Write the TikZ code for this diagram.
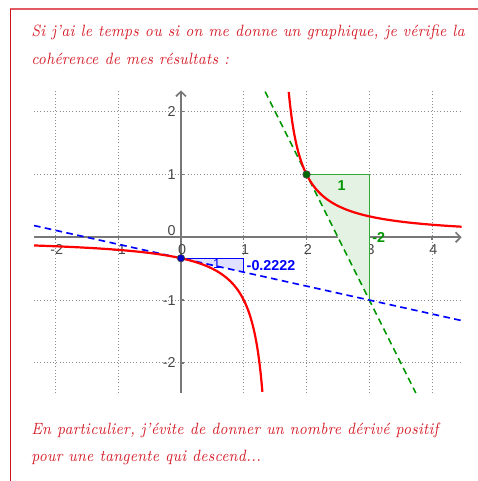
\documentclass[tikz,border=0pt]{standalone}
\usepackage{fontspec}
\setsansfont{Liberation Sans}
\usetikzlibrary{arrows.meta}
\definecolor{remarkred}{RGB}{212,28,40}
\definecolor{framered}{RGB}{226,90,100}
\definecolor{frameleft}{RGB}{205,20,30}
\definecolor{axisgray}{RGB}{120,120,120}
\definecolor{labelgray}{RGB}{70,70,70}
\definecolor{gridgray}{RGB}{140,140,140}
\definecolor{curvered}{RGB}{255,0,0}
\definecolor{tangreen}{RGB}{0,150,0}
\definecolor{greenfill}{RGB}{228,242,228}
\definecolor{tanblue}{RGB}{0,0,255}
\definecolor{bluefill}{RGB}{224,224,255}
\newcommand{\remtext}[1]{\scalebox{0.84}[1]{#1}}
\tikzset{
  remark/.style={anchor=base west, inner sep=0pt, text=remarkred,
    font=\fontsize{7.4}{10}\selectfont\itshape},
  gridline/.style={gridgray, densely dotted, line width=0.45pt},
  axisline/.style={axisgray, line width=0.75pt, -{Straight Barb[length=2.2pt,width=4.5pt]}},
  tickmark/.style={axisgray, line width=0.6pt},
  axislabel/.style={inner sep=0pt, text=labelgray, font=\sffamily\fontsize{6.5}{7}\selectfont},
  curve/.style={curvered, line width=1pt},
  greentan/.style={tangreen, dash pattern=on 3pt off 2pt, line width=0.75pt},
  bluetan/.style={tanblue, dash pattern=on 3pt off 2pt, line width=0.75pt},
  greenside/.style={tangreen!80!white, line width=0.6pt},
  blueside/.style={tanblue, line width=0.6pt},
  greenlabel/.style={inner sep=0pt, text=tangreen, font=\sffamily\bfseries\fontsize{6.5}{7}\selectfont},
  bluelabel/.style={inner sep=0pt, text=tanblue, font=\sffamily\bfseries\fontsize{6.5}{7}\selectfont},
  dot/.style={circle, inner sep=0pt, minimum size=3.4pt, draw=black!70, line width=0.3pt}
}
\begin{document}
\begin{tikzpicture}
\useasboundingbox (-2.882,-3.881) rectangle (4.729,3.779);
\draw[framered, line width=0.8pt] (-2.718,3.631) -- (4.729,3.631);
\draw[frameleft, line width=0.5pt] (-2.718,3.631) -- (-2.718,-3.881);
\node[remark] (l1) at (-2.39,3.19) {\remtext{Si j'ai le temps ou si on me donne un graphique, je vérifie la}};
\node[remark] (l2) at (-2.39,2.745) {\remtext{cohérence de mes résultats :}};
\foreach \i in {-2,-1,1,2,3,4}
  \draw[gridline] (\i,-2.48) -- (\i,2.34);
\foreach \j in {-2,-1,1,2}
  \draw[gridline] (-2.34,\j) -- (4.47,\j);
\draw[axisline] (-2.34,0) -- (4.47,0);
\draw[axisline] (0,-2.48) -- (0,2.34);
\foreach \i in {-2,-1,0,1,2,3,4} {
  \draw[tickmark] (\i,0) -- (\i,-0.05);
  \node[axislabel] (x\i) at (\i+0.02,-0.2) {\i};
}
\foreach \j in {-2,-1,1,2} {
  \draw[tickmark] (0,\j) -- (0.05,\j);
  \node[axislabel, anchor=east] (y\j) at (-0.08,\j) {\j};
}
\node[axislabel, anchor=south east] (y0) at (-0.08,0.02) {0};
\coordinate (P) at (2,1);
\coordinate (R) at (3,1);
\coordinate (S) at (3,-1);
\coordinate (Q) at (0,-0.3333);
\coordinate (Q1) at (1,-0.3333);
\coordinate (Q2) at (1,-0.5556);
\fill[greenfill] (P) -- (R) -- (S) -- cycle;
\draw[greenside] (P) -- (R) -- (S);
\fill[bluefill] (Q) -- (Q1) -- (Q2) -- cycle;
\draw[blueside] (Q) -- (Q1) -- (Q2);
\coordinate (g1) at (1.34,2.32);
\coordinate (g2) at (3.74,-2.48);
\draw[greentan] (g1) -- (g2);
\coordinate (b1) at (-2.34,0.1867);
\coordinate (b2) at (4.47,-1.3267);
\draw[bluetan] (b1) -- (b2);
\draw[curve] plot[domain=-2.34:1.298, samples=160] (\x,{1/(2*\x-3)});
\draw[curve] plot[domain=1.716:4.47, samples=160] (\x,{1/(2*\x-3)});
\node[dot, fill=tangreen!70!black] (A) at (P) {};
\node[dot, fill=tanblue!80!black] (B) at (Q) {};
\node[greenlabel] (dx) at (2.56,0.83) {1};
\node[greenlabel, anchor=west] (dy) at (3.04,0) {-2};
\node[bluelabel, font=\sffamily\fontsize{6}{7}\selectfont] (ex) at (0.57,-0.42) {1};
\node[bluelabel, anchor=west] (ey) at (1.04,-0.444) {-0.2222};
\node[remark] (l3) at (-2.39,-3.148) {\remtext{En particulier, j'évite de donner un nombre dérivé positif}};
\node[remark] (l4) at (-2.39,-3.573) {\remtext{pour une tangente qui descend...}};
\end{tikzpicture}
\end{document}
